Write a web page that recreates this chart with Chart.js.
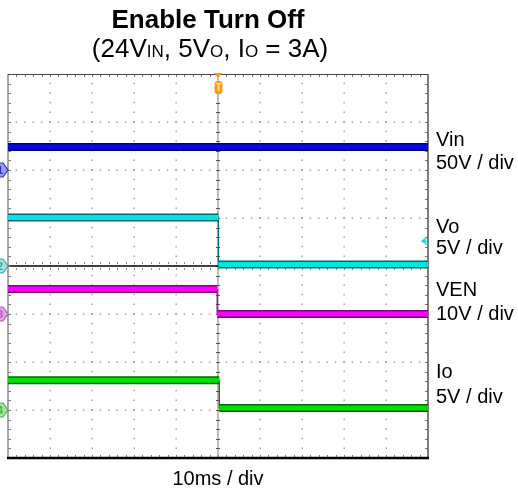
<!DOCTYPE html>
<html>
<head>
<meta charset="utf-8">
<script src="https://cdn.jsdelivr.net/npm/chart.js@4.4.1/dist/chart.umd.min.js"></script>
<style>
  html, body { margin: 0; padding: 0; background: #fff; }
  #wrap { position: relative; width: 518px; height: 493px; overflow: hidden; font-family: "Liberation Sans", Arial, sans-serif; color: #000; }
  #c { position: absolute; left: 0; top: 0; }
  .t { position: absolute; white-space: nowrap; line-height: 1; }
  .title { font-weight: bold; font-size: 26px; left: 0; width: 416px; text-align: center; top: 6px; }
  .sub { font-size: 26px; left: 0; width: 420px; text-align: center; top: 35px; }
  .sub .s { font-size: 17px; }
  .lab { font-size: 20px; left: 436px; }
  .xl { font-size: 20px; left: 118px; width: 200px; text-align: center; top: 468px; }
</style>
</head>
<body>
<div id="wrap">
  <canvas id="c" width="518" height="493"></canvas>
  <div class="t title">Enable Turn Off</div>
  <div class="t sub">(24V<span class="s">IN</span>, 5V<span class="s">O</span>, I<span class="s">O</span> = 3A)</div>
  <div id="labels"></div>
  <div class="t xl" id="xlabel"></div>
</div>
<script>
// ---- data ----
const timeRangeMs = [-50, 50];              // 10 ms / div, trigger at 0
const channelNames = ['Vin', 'Vo', 'VEN', 'Io'];
const scaleLabels = ['50V / div', '5V / div', '10V / div', '5V / div'];
const unitsPerDiv = [50, 5, 10, 5];
const groundDiv = [2, 0, -1, -3];           // channel ground marker positions (div)
const stepTimeMs = [null, 0.1, -0.2, 0.3];  // falling edge time for each channel
const levelBefore = [24, 5.05, 5.2, 3.1];
const levelAfter = [24, 0.15, 0, 0.2];
const timeLabel = '10ms / div';

// ---- styles ----
const brightColors = ['#0a0ae8', '#00e4e4', '#ff00ff', '#00e000'];
const darkColors = ['#000080', '#006a6a', '#7a0a7a', '#006a00'];
const markerFill = ['#9a9aff', '#9fe3e3', '#e6a0e6', '#a0e6a0'];
const markerStroke = ['#3030c0', '#40a0a0', '#b060b0', '#50b050'];
const labelBaselines = [[146, 169], [233, 254], [296, 320], [378, 403]];

// ---- text labels ----
const labelsDiv = document.getElementById('labels');
channelNames.forEach((n, i) => {
  const F = 20;
  const a = document.createElement('div');
  a.className = 't lab'; a.textContent = n;
  a.style.top = (labelBaselines[i][0] - 0.8465 * F) + 'px';
  labelsDiv.appendChild(a);
  const b = document.createElement('div');
  b.className = 't lab'; b.textContent = scaleLabels[i];
  b.style.top = (labelBaselines[i][1] - 0.8465 * F) + 'px';
  labelsDiv.appendChild(b);
});
document.getElementById('xlabel').textContent = timeLabel;

// ---- datasets ----
const toDiv = (i, v) => groundDiv[i] + v / unitsPerDiv[i];
const datasets = [];
channelNames.forEach((n, i) => {
  const makeLevel = () => {
    if (stepTimeMs[i] === null) {
      return [{x: timeRangeMs[0], y: toDiv(i, levelBefore[i])}, {x: timeRangeMs[1], y: toDiv(i, levelAfter[i])}];
    }
    const t = stepTimeMs[i];
    return [
      {x: timeRangeMs[0], y: toDiv(i, levelBefore[i])},
      {x: t, y: toDiv(i, levelBefore[i])},
      {x: t, y: null},
      {x: t, y: toDiv(i, levelAfter[i])},
      {x: timeRangeMs[1], y: toDiv(i, levelAfter[i])}
    ];
  };
  datasets.push({label: n + ' outline', data: makeLevel(), borderColor: darkColors[i], borderWidth: 8, pointRadius: 0, spanGaps: false, borderCapStyle: 'butt', order: 3});
  datasets.push({label: n, data: makeLevel(), borderColor: brightColors[i], borderWidth: 5, pointRadius: 0, spanGaps: false, borderCapStyle: 'butt', order: 1});
  if (stepTimeMs[i] !== null) {
    const t = stepTimeMs[i];
    datasets.push({label: n + ' step', data: [{x: t, y: toDiv(i, levelBefore[i])}, {x: t, y: toDiv(i, levelAfter[i])}],
      borderColor: darkColors[i], borderWidth: 1.2, pointRadius: 0, order: 2});
  }
});

// ---- scope graticule ----
const graticule = {
  id: 'graticule',
  beforeDatasetsDraw(chart) {
    const {ctx, chartArea: a, scales} = chart;
    const xs = scales.x, ys = scales.y;
    const X = d => xs.getPixelForValue(timeRangeMs[0] + d * 10);
    const Y = d => ys.getPixelForValue(4 - d);
    ctx.save();
    ctx.fillStyle = '#9a9a9a';
    for (let k = 1; k < 10; k++) {
      if (k === 5) continue;
      for (let j = 1; j < 40; j++) ctx.fillRect(Math.round(X(k)) - 0.5, Y(j * 0.2) - 1, 1.3, 1.6);
    }
    for (let k = 1; k < 8; k++) {
      if (k === 4) continue;
      for (let j = 1; j < 50; j++) ctx.fillRect(X(j * 0.2) - 0.8, Math.round(Y(k)) - 0.5, 1.6, 1.3);
    }
    ctx.strokeStyle = '#bdbdbd'; ctx.lineWidth = 2;
    ctx.beginPath(); ctx.moveTo(X(5), a.top); ctx.lineTo(X(5), a.bottom); ctx.stroke();
    ctx.strokeStyle = '#555'; ctx.lineWidth = 1;
    for (let j = 1; j < 40; j++) {
      const y = Math.round(Y(j * 0.2)) + 0.5;
      ctx.beginPath(); ctx.moveTo(X(5) - 2, y); ctx.lineTo(X(5) + 2, y); ctx.stroke();
    }
    ctx.strokeStyle = '#000'; ctx.lineWidth = 1.5;
    ctx.beginPath(); ctx.moveTo(a.left, Y(4)); ctx.lineTo(a.right, Y(4)); ctx.stroke();
    ctx.strokeStyle = '#888'; ctx.lineWidth = 1;
    for (let j = 1; j < 50; j++) {
      const x = Math.round(X(j * 0.2)) + 0.5;
      ctx.beginPath(); ctx.moveTo(x, Y(4) - 4); ctx.lineTo(x, Y(4) - 2); ctx.moveTo(x, Y(4) + 2); ctx.lineTo(x, Y(4) + 4); ctx.stroke();
    }
    ctx.strokeStyle = '#777'; ctx.lineWidth = 1;
    for (let j = 1; j < 40; j++) {
      const y = Math.round(Y(j * 0.2)) + 0.5;
      ctx.beginPath(); ctx.moveTo(a.left, y); ctx.lineTo(a.left + 3, y); ctx.moveTo(a.right - 3, y); ctx.lineTo(a.right, y); ctx.stroke();
    }
    for (let j = 1; j < 50; j++) {
      const x = Math.round(X(j * 0.2)) + 0.5;
      ctx.beginPath(); ctx.moveTo(x, a.top); ctx.lineTo(x, a.top + 3); ctx.moveTo(x, a.bottom - 3); ctx.lineTo(x, a.bottom); ctx.stroke();
    }
    ctx.strokeStyle = '#8a8a8a'; ctx.lineWidth = 1.5;
    ctx.beginPath(); ctx.moveTo(a.left, a.top); ctx.lineTo(a.left, a.bottom); ctx.stroke();
    ctx.strokeStyle = '#555'; ctx.lineWidth = 1.5;
    ctx.beginPath(); ctx.moveTo(a.right, a.top); ctx.lineTo(a.right, a.bottom); ctx.stroke();
    ctx.strokeStyle = '#444'; ctx.lineWidth = 1;
    ctx.beginPath(); ctx.moveTo(a.left, a.top + 0.5); ctx.lineTo(a.right, a.top + 0.5); ctx.stroke();
    ctx.strokeStyle = '#000'; ctx.lineWidth = 2.5;
    ctx.beginPath(); ctx.moveTo(a.left - 1, a.bottom); ctx.lineTo(a.right + 1, a.bottom); ctx.stroke();
    ctx.restore();
  },
  afterDraw(chart) {
    const {ctx, chartArea: a, scales} = chart;
    const ys = scales.y, xs = scales.x;
    ctx.save();
    channelNames.forEach((n, i) => {
      const y = ys.getPixelForValue(groundDiv[i]);
      ctx.beginPath();
      ctx.moveTo(-6, y - 7); ctx.lineTo(3, y - 7); ctx.lineTo(a.left, y); ctx.lineTo(3, y + 7); ctx.lineTo(-6, y + 7); ctx.closePath();
      ctx.fillStyle = markerFill[i]; ctx.fill();
      ctx.strokeStyle = markerStroke[i]; ctx.lineWidth = 1.2; ctx.stroke();
      ctx.fillStyle = markerStroke[i];
      ctx.font = 'bold 11px "Liberation Sans", Arial, sans-serif';
      ctx.textAlign = 'center'; ctx.textBaseline = 'middle';
      ctx.fillText(String(i + 1), 0, y + 0.5);
    });
    const tx = xs.getPixelForValue(0);
    ctx.fillStyle = '#ff9a10';
    ctx.beginPath(); ctx.moveTo(tx - 4, a.top - 1); ctx.lineTo(tx + 4, a.top - 1); ctx.lineTo(tx, a.top + 4); ctx.closePath(); ctx.fill();
    ctx.beginPath();
    if (ctx.roundRect) ctx.roundRect(tx - 3.5, a.top + 7, 8, 13, 3); else ctx.rect(tx - 3.5, a.top + 7, 8, 13);
    ctx.fill();
    ctx.fillStyle = '#ffe0b0';
    ctx.font = 'bold 10px "Liberation Sans", Arial, sans-serif';
    ctx.textAlign = 'center'; ctx.textBaseline = 'middle';
    ctx.fillText('T', tx + 0.5, a.top + 14);
    const ly = 241;
    ctx.strokeStyle = '#20d0e0'; ctx.fillStyle = '#20d0e0'; ctx.lineWidth = 1.2;
    ctx.beginPath(); ctx.moveTo(a.right - 2, ly - 4); ctx.lineTo(a.right - 2, ly + 4); ctx.stroke();
    ctx.beginPath(); ctx.moveTo(a.right - 7, ly); ctx.lineTo(a.right - 3, ly - 3); ctx.lineTo(a.right - 3, ly + 3); ctx.closePath(); ctx.fill();
    ctx.restore();
  }
};

new Chart(document.getElementById('c'), {
  type: 'line',
  data: {datasets},
  options: {
    responsive: false,
    animation: false,
    events: [],
    layout: {padding: {left: 8, right: 90, top: 74, bottom: 35}},
    plugins: {legend: {display: false}, tooltip: {enabled: false}, title: {display: false}},
    scales: {
      x: {type: 'linear', min: timeRangeMs[0], max: timeRangeMs[1], display: false},
      y: {type: 'linear', min: -4, max: 4, display: false}
    },
    elements: {line: {tension: 0}, point: {radius: 0}}
  },
  plugins: [graticule]
});
</script>
</body>
</html>
